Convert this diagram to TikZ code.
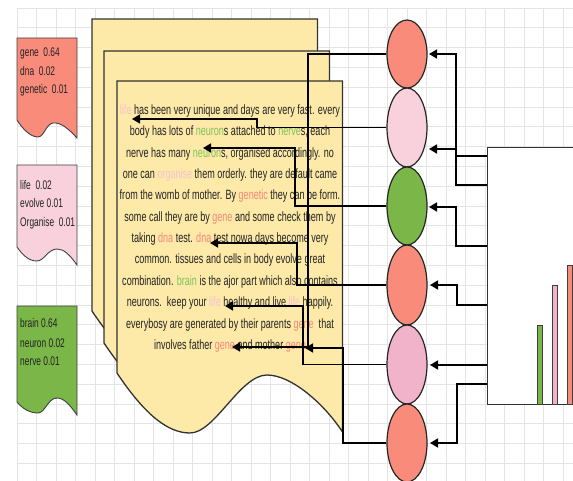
\documentclass[tikz,border=0pt]{standalone}
\usepackage{fontspec}
\usetikzlibrary{shapes.geometric,arrows.meta}
\newfontfamily\narfont[FakeStretch=0.67]{Liberation Sans}
\definecolor{salmon}{HTML}{F98B7B}
\definecolor{lpink}{HTML}{F8D1DD}
\definecolor{dpink}{HTML}{F0B3CA}
\definecolor{leaf}{HTML}{7AB648}
\definecolor{docfill}{HTML}{FDE9A8}
\definecolor{gridc}{HTML}{E4E4E4}
\definecolor{txtpink}{HTML}{F7C2D2}
\definecolor{txtgreen}{HTML}{7CC25A}
\definecolor{txtred}{HTML}{F6877A}
\definecolor{ink}{HTML}{222222}
\newcommand\cpink[1]{\textcolor{txtpink}{#1}}
\newcommand\cgreen[1]{\textcolor{txtgreen}{#1}}
\newcommand\cred[1]{\textcolor{txtred}{#1}}
\begin{document}
\begin{tikzpicture}[x=1pt,y=-1pt,
  gridline/.style={draw=gridc,line width=0.9pt},
  tagshape/.style={draw=black!75,line width=0.9pt},
  docshape/.style={draw=black!80,fill=docfill,line width=1.3pt},
  ell/.style={ellipse,draw=black!85,line width=1.2pt,minimum width=40pt,inner sep=0pt},
  conn/.style={draw=black,line width=1.5pt,-{Triangle[length=8pt,width=9pt]}},
  body/.style={font=\narfont\fontsize{13.5}{16}\selectfont,text=ink,inner sep=0pt,anchor=base},
  tagtext/.style={font=\narfont\fontsize{12.5}{15}\selectfont,text=ink,inner sep=0pt,anchor=base west},
  bar/.style={draw=black!75,line width=0.9pt}]
\useasboundingbox (0,0) rectangle (573,481);
\begin{scope}
\clip (0,0) rectangle (573,481);
% grid
\foreach \i in {0,...,28} \draw[gridline] ({17+19.5*\i},8) -- ({17+19.5*\i},481);
\foreach \j in {0,...,24} \draw[gridline] (17,{8+19.8*\j}) -- (573,{8+19.8*\j});

% tags
\draw[tagshape,fill=salmon] (17,38) -- (77,38) -- (77,138) .. controls (68,128) and (60,122) .. (53,123) .. controls (46,124) and (44,137) .. (38,137) .. controls (30,137) and (22,128) .. (17,120) -- cycle;
\draw[tagshape,fill=lpink] (17,165) -- (77,165) -- (77,265) .. controls (70,255) and (64,249) .. (57,249) .. controls (48,249) and (44,261) .. (37,261) .. controls (28,261) and (22,254) .. (17,247) -- cycle;
\draw[tagshape,fill=leaf] (17,306) -- (77,306) -- (77,415) .. controls (70,405) and (64,398) .. (57,398) .. controls (48,398) and (45,413) .. (38,413) .. controls (29,413) and (22,408) .. (17,402) -- cycle;

\node[tagtext] (r1) at (20,57) {gene\ \ 0.64};
\node[tagtext] (r2) at (20,75.5) {dna\ \ 0.02};
\node[tagtext] (r3) at (20,93.5) {genetic\ \ 0.01};
\node[tagtext] (k1) at (20,189.5) {life\ \ 0.02};
\node[tagtext] (k2) at (20,208) {evolve 0.01};
\node[tagtext] (k3) at (20,226.5) {Organise\ \ 0.01};
\node[tagtext] (g1) at (20,327.5) {brain 0.64};
\node[tagtext] (g2) at (20,347) {neuron 0.02};
\node[tagtext] (g3) at (20,365.5) {nerve 0.01};

% documents
\foreach \dx/\dy in {-25/-62,-13/-30,0/0}{
\begin{scope}[shift={(\dx,\dy)}]
\draw[docshape] (117,81) -- (342.5,81) -- (342.5,432) .. controls (325,405) and (292,375) .. (267,375) .. controls (240,375) and (215,433) .. (190,433) .. controls (168,433) and (145,415) .. (117,373) -- cycle;
\end{scope}}

% text
\node[body] (l1) at (230,114.5) {\cpink{life} has been very unique and days are very fast. every};
\node[body] (l2) at (230,135.9) {body has lots of \cgreen{neuron}s attached to \cgreen{nerve}s, each};
\node[body] (l3) at (230,157.2) {nerve has many \cgreen{neuron}s, organised accordingly. no};
\node[body] (l4) at (230,178.5) {one can \cpink{organise} them orderly. they are default came};
\node[body] (l5) at (230,199.9) {from the womb of mother. By \cred{genetic} they can be form.};
\node[body] (l6) at (230,221.3) {some call they are by \cred{gene} and some check them by};
\node[body] (l7) at (230,242.6) {taking \cred{dna} test. \cred{dna} test nowa days become very};
\node[body] (l8) at (230,264) {common. tissues and cells in body evolve great};
\node[body] (l9) at (230,285.3) {combination. \cgreen{brain} is the ajor part which also contains};
\node[body] (l10) at (230,306.7) {neurons.\ \ keep your \cpink{life} healthy and live \cpink{life} happily.};
\node[body] (l11) at (230,328) {everybosy are generated by their parents \cred{gene}\ \ that};
\node[body] (l12) at (230,349.4) {involves father \cred{gene} and mother \cred{gene}};

% chart box
\node[draw=black!80,fill=white,line width=1.2pt,minimum width=130pt,minimum height=257pt,anchor=north west,inner sep=0pt] (chart) at (487,147) {};
\draw[bar,fill=leaf] (537,325) rectangle (542,404);
\draw[bar,fill=dpink] (552,285) rectangle (557,404);
\draw[bar,fill=salmon] (567,265) rectangle (572,404);

% ellipses
\node[ell,fill=salmon,minimum height=68pt] (e1) at (407,54) {};
\node[ell,fill=lpink,minimum height=79pt] (e2) at (407,127.5) {};
\node[ell,fill=leaf,minimum height=78pt] (e3) at (407,206) {};
\node[ell,fill=salmon,minimum height=80pt] (e4) at (407,285) {};
\node[ell,fill=dpink,minimum height=79pt] (e5) at (407,364.5) {};
\node[ell,fill=salmon,minimum height=78pt] (e6) at (407,443) {};

% ports and tips
\coordinate (p1) at (487,156);
\coordinate (p2) at (487,185);
\coordinate (p3) at (487,246);
\coordinate (p4) at (487,305);
\coordinate (p5) at (487,365);
\coordinate (p6) at (487,384);
\coordinate (a1) at (429,54);
\coordinate (a2) at (429,149);
\coordinate (a3) at (429,207);
\coordinate (a4) at (430,285);
\coordinate (a5) at (430,365);
\coordinate (a6) at (430,443);
\coordinate (t1) at (232,347);
\coordinate (t2) at (132,119);
\coordinate (t3) at (203,148);
\coordinate (t4) at (210,243);
\coordinate (t5) at (225,306);
\coordinate (t6) at (305,348);

% connectors chart -> ellipses
\draw[conn] (p1) -| (a1 -| 456,0) -- (a1);
\draw[conn] (p2) -| (a2 -| 456,0) -- (a2);
\draw[conn] (p3) -| (a3 -| 456,0) -- (a3);
\draw[conn] (p4) -| (a4 -| 457,0) -- (a4);
\draw[conn] (p5) -- (a5);
\draw[conn] (p6) -| (a6 -| 457,0) -- (a6);

% connectors ellipses -> text
\draw[conn] (e1.west) -| (t1 -| 308,0) -- (t1);
\draw[conn] (e2.west) -| (t2 -| 257,0) -- (t2);
\draw[conn] (e3.west) -| (t3 -| 295,0) -- (t3);
\draw[conn] (e4.west) -| (t4 -| 297,0) -- (t4);
\draw[conn] (e5.west) -| (t5 -| 303,0) -- (t5);
\draw[conn] (e6.west) -| (t6 -| 343,0) -- (t6);
\end{scope}
\end{tikzpicture}
\end{document}
